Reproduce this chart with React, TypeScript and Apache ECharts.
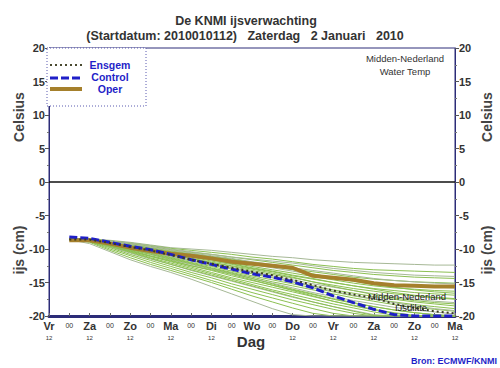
import React, { useEffect, useRef } from "react";
import * as echarts from "echarts";

const hours = [12, 24, 36, 48, 60, 72, 84, 96, 108, 120, 132, 144, 156, 168, 180, 192, 204, 216, 228, 240];
const dayNames = ["Vr", "Za", "Zo", "Ma", "Di", "Wo", "Do", "Vr", "Za", "Zo", "Ma"];
const yTicks = [-20, -15, -10, -5, 0, 5, 10, 15, 20];

const oper = [-8.7, -8.7, -9.2, -9.8, -10.3, -10.7, -11.0, -11.4, -11.9, -12.2, -12.5, -12.8, -14.0, -14.3, -14.6, -15.1, -15.4, -15.5, -15.6, -15.6];
const control = [-8.2, -8.4, -9.0, -9.6, -10.1, -10.8, -11.6, -12.3, -13.0, -13.7, -14.2, -14.9, -15.8, -17.0, -18.0, -19.0, -19.8, -20, -20, -20];
const ensgem = [-8.6, -8.6, -9.1, -9.7, -10.2, -10.9, -11.6, -12.2, -12.8, -13.4, -13.9, -14.6, -15.4, -16.2, -16.8, -17.3, -18.2, -18.8, -19.3, -19.6];

const members = [
  [-8.5, -8.5, -8.7, -9.0, -9.4, -9.8, -10.0, -10.2, -10.5, -10.8, -11.1, -11.3, -11.6, -11.8, -12.0, -12.1, -12.2, -12.3, -12.4, -12.4],
  [-8.5, -8.5, -8.8, -9.1, -9.5, -9.9, -10.2, -10.5, -10.8, -11.2, -11.5, -11.9, -12.3, -12.6, -12.9, -13.1, -13.2, -13.3, -13.4, -13.5],
  [-8.5, -8.6, -8.8, -9.2, -9.6, -10.1, -10.5, -10.8, -11.2, -11.6, -12.0, -12.4, -12.8, -13.2, -13.5, -13.8, -14.0, -14.2, -14.3, -14.4],
  [-8.4, -8.5, -8.9, -9.3, -9.8, -10.3, -10.7, -11.1, -11.5, -12.0, -12.5, -13.0, -13.4, -13.8, -14.2, -14.5, -14.7, -14.9, -15.0, -15.1],
  [-8.5, -8.6, -9.0, -9.4, -9.9, -10.4, -10.9, -11.3, -11.8, -12.3, -12.8, -13.3, -13.8, -14.3, -14.7, -15.0, -15.3, -15.5, -15.7, -15.8],
  [-8.6, -8.6, -9.0, -9.5, -10.0, -10.6, -11.1, -11.6, -12.1, -12.6, -13.1, -13.6, -14.1, -14.6, -15.1, -15.5, -15.8, -16.0, -16.2, -16.3],
  [-8.5, -8.6, -9.1, -9.6, -10.1, -10.7, -11.2, -11.8, -12.3, -12.9, -13.4, -14.0, -14.5, -15.0, -15.5, -15.9, -16.2, -16.5, -16.7, -16.9],
  [-8.5, -8.6, -9.1, -9.7, -10.3, -10.9, -11.4, -12.0, -12.6, -13.2, -13.8, -14.3, -14.9, -15.4, -15.9, -16.3, -16.7, -17.0, -17.3, -17.5],
  [-8.6, -8.7, -9.2, -9.8, -10.4, -11.0, -11.6, -12.2, -12.8, -13.4, -14.0, -14.6, -15.2, -15.7, -16.2, -16.7, -17.1, -17.5, -17.8, -18.0],
  [-8.5, -8.6, -9.2, -9.8, -10.5, -11.2, -11.8, -12.4, -13.0, -13.7, -14.3, -14.9, -15.5, -16.1, -16.6, -17.1, -17.5, -17.9, -18.2, -18.5],
  [-8.5, -8.7, -9.3, -9.9, -10.6, -11.3, -12.0, -12.6, -13.3, -14.0, -14.6, -15.2, -15.8, -16.4, -17.0, -17.5, -17.9, -18.3, -18.6, -18.9],
  [-8.6, -8.7, -9.3, -10.0, -10.7, -11.4, -12.1, -12.8, -13.5, -14.2, -14.9, -15.5, -16.1, -16.7, -17.3, -17.8, -18.3, -18.7, -19.0, -19.3],
  [-8.5, -8.7, -9.4, -10.1, -10.8, -11.6, -12.3, -13.0, -13.7, -14.4, -15.1, -15.8, -16.5, -17.1, -17.7, -18.2, -18.7, -19.1, -19.4, -19.7],
  [-8.5, -8.7, -9.4, -10.2, -11.0, -11.7, -12.5, -13.2, -14.0, -14.7, -15.4, -16.1, -16.8, -17.5, -18.1, -18.6, -19.1, -19.5, -19.8, -20.0],
  [-8.6, -8.8, -9.5, -10.3, -11.1, -11.9, -12.7, -13.5, -14.3, -15.0, -15.7, -16.4, -17.1, -17.8, -18.4, -19.0, -19.5, -19.9, -20, -20],
  [-8.5, -8.8, -9.6, -10.4, -11.3, -12.1, -12.9, -13.7, -14.5, -15.3, -16.1, -16.8, -17.5, -18.2, -18.8, -19.4, -19.9, -20, -20, -20],
  [-8.5, -8.8, -9.7, -10.6, -11.5, -12.3, -13.2, -14.0, -14.8, -15.6, -16.4, -17.2, -17.9, -18.6, -19.2, -19.8, -20, -20, -20, -20],
  [-8.6, -8.9, -9.8, -10.8, -11.7, -12.6, -13.5, -14.3, -15.2, -16.0, -16.8, -17.6, -18.3, -19.0, -19.6, -20, -20, -20, -20, -20],
  [-8.5, -8.9, -10.0, -11.0, -12.0, -12.9, -13.8, -14.7, -15.6, -16.5, -17.3, -18.1, -18.9, -19.6, -20, -20, -20, -20, -20, -20],
  [-8.5, -9.0, -10.2, -11.3, -12.3, -13.2, -14.1, -15.0, -16.0, -17.0, -17.9, -18.8, -19.6, -20, -20, -20, -20, -20, -20, -20],
  [-8.6, -9.2, -10.4, -11.6, -12.6, -13.5, -14.5, -15.6, -16.7, -17.8, -18.9, -19.8, -20, -20, -20, -20, -20, -20, -20, -20],
  [-8.5, -8.6, -8.8, -9.1, -9.5, -10.0, -10.4, -10.8, -11.2, -11.5, -11.8, -12.1, -12.5, -12.9, -13.2, -13.5, -13.7, -13.9, -14.0, -14.1],
  [-8.6, -8.6, -9.0, -9.4, -9.9, -10.4, -10.8, -11.2, -11.6, -12.1, -12.6, -13.1, -13.7, -14.3, -14.8, -15.3, -15.7, -16.1, -16.4, -16.6],
  [-8.5, -8.7, -9.2, -9.7, -10.2, -10.8, -11.4, -12.0, -12.5, -13.0, -13.6, -14.2, -14.9, -15.6, -16.2, -16.8, -17.3, -17.7, -18.0, -18.2],
  [-8.5, -8.7, -9.3, -9.9, -10.5, -11.1, -11.7, -12.3, -12.9, -13.5, -14.2, -14.9, -15.6, -16.3, -16.9, -17.5, -18.0, -18.5, -18.9, -19.2],
  [-8.6, -8.8, -9.4, -10.1, -10.8, -11.5, -12.2, -12.9, -13.6, -14.4, -15.2, -16.0, -16.7, -17.4, -18.0, -18.6, -19.1, -19.5, -19.8, -20.0],
  [-8.5, -8.7, -9.5, -10.3, -11.1, -11.8, -12.5, -13.1, -13.8, -14.6, -15.4, -16.2, -17.0, -17.8, -18.5, -19.1, -19.6, -20, -20, -20],
  [-8.5, -8.8, -9.6, -10.5, -11.4, -12.3, -13.1, -13.9, -14.7, -15.5, -16.3, -17.1, -17.9, -18.6, -19.3, -19.9, -20, -20, -20, -20],
  [-8.6, -8.6, -8.9, -9.3, -9.7, -10.2, -10.6, -11.0, -11.4, -11.9, -12.3, -12.8, -13.2, -13.6, -14.0, -14.4, -14.7, -14.9, -15.1, -15.2],
  [-8.5, -8.7, -9.1, -9.6, -10.1, -10.6, -11.1, -11.6, -12.2, -12.8, -13.3, -13.9, -14.4, -15.0, -15.5, -16.0, -16.5, -16.9, -17.2, -17.4],
];

const FONT = "Liberation Sans, Arial, sans-serif";
const BLUE = "#1f1fc8";
const NAVY = "#2c2c78";
const TXT = "#333333";

const pairs = (vals: number[]) => vals.map((v, i) => [hours[i], v]);

export default function App() {
  const ref = useRef<HTMLDivElement>(null);
  useEffect(() => {
    if (!ref.current) return;
    const chart = echarts.init(ref.current, null, { renderer: "svg" });

    const memberSeries = members.map((m, i) => ({
      type: "line",
      data: pairs(m),
      symbol: "none",
      silent: true,
      z: 2,
      lineStyle: { color: i % 4 === 0 || i === 21 || i === 28 ? "#a6b896" : "#8cc052", width: 1 },
    }));

    const yAxisBase = {
      type: "value",
      min: -20,
      max: 20,
      interval: 5,
      axisLine: { show: true, lineStyle: { color: NAVY, width: 1 } },
      axisTick: { show: true, inside: false, length: 4, lineStyle: { color: "#555" } },
      minorTick: { show: true, splitNumber: 2, length: 2, lineStyle: { color: "#777" } },
      splitLine: { show: false },
      axisLabel: {
        fontFamily: FONT,
        fontWeight: "bold",
        fontSize: 11,
        color: TXT,
        margin: 4,
        customValues: yTicks,
      },
    };

    chart.setOption({
      animation: false,
      backgroundColor: "#ffffff",
      grid: {
        left: 49,
        right: 45,
        top: 48,
        bottom: 52,
        show: true,
        borderColor: NAVY,
        borderWidth: 1,
        backgroundColor: "transparent",
      },
      xAxis: {
        type: "value",
        min: 0,
        max: 240,
        interval: 12,
        axisLine: { show: true, onZero: false, lineStyle: { color: NAVY, width: 3 } },
        axisTick: { show: true, inside: true, length: 3, lineStyle: { color: "#666" } },
        splitLine: { show: false },
        axisLabel: {
          showMinLabel: true,
          showMaxLabel: true,
          margin: 3,
          formatter: (v: number) => {
            if (v % 24 === 0) {
              const k = v / 24;
              return k === 5 ? "{d|" + dayNames[k] + "}" : "{d|" + dayNames[k] + "}\n{h|12}";
            }
            return "{m|00}";
          },
          rich: {
            d: { fontFamily: FONT, fontWeight: "bold", fontSize: 11, color: TXT, lineHeight: 13 },
            h: { fontFamily: FONT, fontSize: 6, color: TXT, lineHeight: 12 },
            m: { fontFamily: FONT, fontSize: 7, color: TXT, lineHeight: 13 },
          },
        },
      },
      yAxis: [
        { ...yAxisBase, position: "left" },
        { ...yAxisBase, position: "right" },
      ],
      series: [
        ...memberSeries,
        {
          type: "line",
          name: "Oper",
          data: pairs(oper),
          symbol: "none",
          z: 3,
          lineStyle: { color: "#a5802c", width: 4 },
          markLine: {
            silent: true,
            symbol: "none",
            label: { show: false },
            lineStyle: { color: "#111", width: 1.5, type: "solid" },
            data: [{ yAxis: 0 }],
          },
        },
        {
          type: "line",
          name: "Control",
          data: pairs(control),
          symbol: "none",
          z: 4,
          lineStyle: { color: BLUE, width: 3, type: [8, 3] },
        },
        {
          type: "line",
          name: "Ensgem",
          data: pairs(ensgem),
          symbol: "none",
          z: 5,
          lineStyle: { color: "#3b3b22", width: 2, type: [2, 3] },
        },
      ],
      graphic: [
        {
          type: "text",
          x: 246,
          y: 14,
          style: { text: "De KNMI ijsverwachting", fontFamily: FONT, fontWeight: "bold", fontSize: 12.5, fill: TXT, align: "center" },
        },
        {
          type: "text",
          x: 245,
          y: 29,
          style: {
            text: "(Startdatum: 2010010112)   Zaterdag   2 Januari   2010",
            fontFamily: FONT,
            fontWeight: "bold",
            fontSize: 12.5,
            fill: TXT,
            align: "center",
          },
        },
        {
          type: "rect",
          shape: { x: 47, y: 48, width: 99, height: 58 },
          style: { fill: "#ffffff", stroke: "#5a5ab0", lineWidth: 1, lineDash: [1, 2] },
          z: 10,
        },
        { type: "line", shape: { x1: 50, y1: 65, x2: 82, y2: 65 }, style: { stroke: "#4a4a30", lineWidth: 2, lineDash: [2, 3] }, z: 11 },
        { type: "line", shape: { x1: 50, y1: 78, x2: 82, y2: 78 }, style: { stroke: BLUE, lineWidth: 3, lineDash: [8, 3] }, z: 11 },
        { type: "line", shape: { x1: 50, y1: 89, x2: 82, y2: 89 }, style: { stroke: "#a5802c", lineWidth: 4 }, z: 11 },
        {
          type: "text",
          x: 110,
          y: 59,
          z: 11,
          style: { text: "Ensgem", fontFamily: FONT, fontWeight: "bold", fontSize: 10.5, fill: BLUE, align: "center" },
        },
        {
          type: "text",
          x: 110,
          y: 71,
          z: 11,
          style: { text: "Control", fontFamily: FONT, fontWeight: "bold", fontSize: 10.5, fill: BLUE, align: "center" },
        },
        {
          type: "text",
          x: 110,
          y: 83,
          z: 11,
          style: { text: "Oper", fontFamily: FONT, fontWeight: "bold", fontSize: 10.5, fill: BLUE, align: "center" },
        },
        {
          type: "text",
          x: 405,
          y: 53,
          style: { text: "Midden-Nederland", fontFamily: FONT, fontSize: 9.5, fill: TXT, align: "center" },
        },
        {
          type: "text",
          x: 405,
          y: 66,
          style: { text: "Water Temp", fontFamily: FONT, fontSize: 9.5, fill: TXT, align: "center" },
        },
        {
          type: "text",
          x: 407,
          y: 291,
          z: 10,
          style: { text: "Midden-Nederland", fontFamily: FONT, fontSize: 9.5, fill: "#222", align: "center" },
        },
        {
          type: "text",
          x: 411,
          y: 302,
          z: 10,
          style: { text: "IJsdikte", fontFamily: FONT, fontSize: 9.5, fill: "#222", align: "center" },
        },
        {
          type: "text",
          x: 19,
          y: 117,
          rotation: Math.PI / 2,
          style: { text: "Celsius", fontFamily: FONT, fontWeight: "bold", fontSize: 14, fill: "#444", align: "center", verticalAlign: "middle" },
        },
        {
          type: "text",
          x: 19,
          y: 250,
          rotation: Math.PI / 2,
          style: { text: "ijs (cm)", fontFamily: FONT, fontWeight: "bold", fontSize: 14, fill: "#444", align: "center", verticalAlign: "middle" },
        },
        {
          type: "text",
          x: 487,
          y: 117,
          rotation: Math.PI / 2,
          style: { text: "Celsius", fontFamily: FONT, fontWeight: "bold", fontSize: 14, fill: "#444", align: "center", verticalAlign: "middle" },
        },
        {
          type: "text",
          x: 487,
          y: 250,
          rotation: Math.PI / 2,
          style: { text: "ijs (cm)", fontFamily: FONT, fontWeight: "bold", fontSize: 14, fill: "#444", align: "center", verticalAlign: "middle" },
        },
        {
          type: "text",
          x: 251,
          y: 341,
          style: { text: "Dag", fontFamily: FONT, fontWeight: "bold", fontSize: 15, fill: TXT, align: "center", verticalAlign: "middle" },
        },
        {
          type: "text",
          x: 497,
          y: 356,
          style: { text: "Bron: ECMWF/KNMI", fontFamily: FONT, fontWeight: "bold", fontSize: 9, fill: BLUE, align: "right" },
        },
      ],
    });
    return () => chart.dispose();
  }, []);
  return <div ref={ref} style={{ width: 500, height: 368, position: "absolute", left: 0, top: 0 }} />;
}
